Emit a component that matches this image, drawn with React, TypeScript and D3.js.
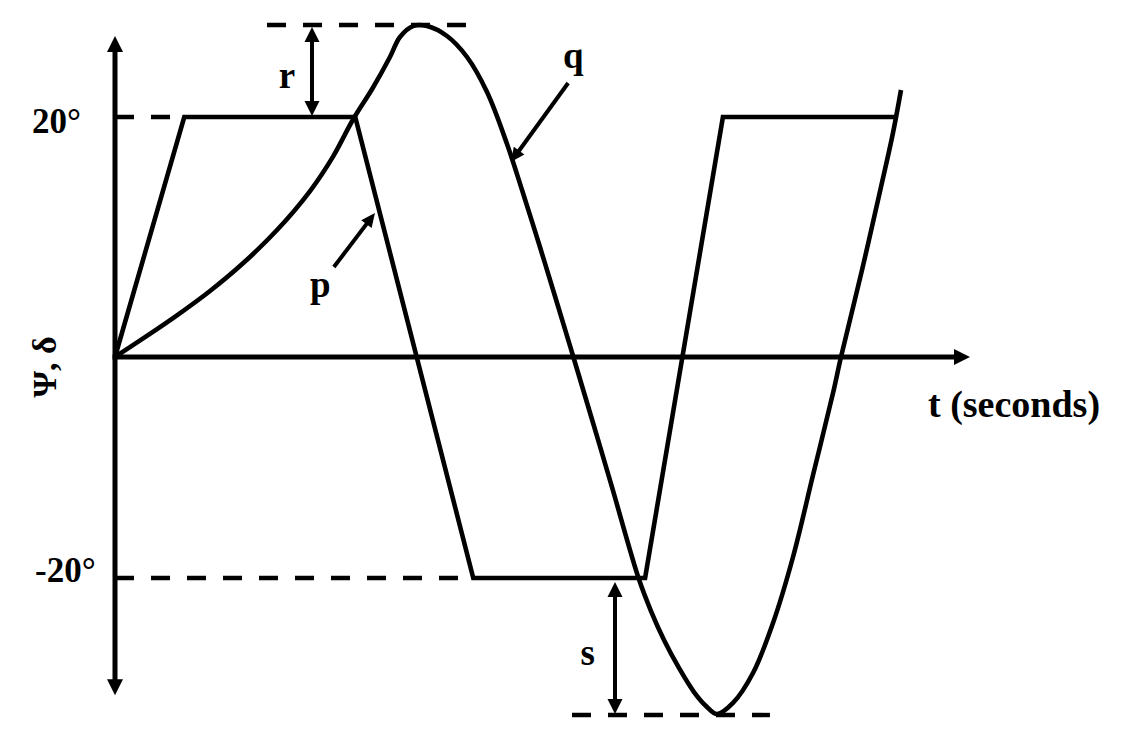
import React from 'react';
import * as d3 from 'd3';

const W = 1135;
const H = 742;

// time axis in arbitrary units (0..100), angle axis in degrees
const tAxisEnd = 100;
const vAxisTop = 26.75;
const vAxisBottom = -30.6;

const tickValues = [20, -20];
const tickLabels = ['20°', '-20°'];

// curve p (trapezoidal rudder command)
const pT = [0, 8.1, 28.1, 41.9, 62.0, 71.1, 91.2];
const pV = [0, 20, 20, -20, -20, 20, 20];

// curve q (heading response)
const qT = [0, 3.51, 7.25, 11.11, 14.97, 18.95, 22.81, 25.5, 27.84, 30.18, 32.16, 33.33, 34.85, 36.49, 38.83, 41.17, 43.51, 45.85, 47.68, 49.63, 51.49, 53.61, 55.81, 58.12, 61.27, 62.69, 64.21, 65.96, 67.72, 69.12, 70.41, 72.28, 74.62, 76.96, 79.3, 81.64, 83.98, 84.91, 87.37, 89.59, 90.99, 91.93];
const qV = [0, 1.65, 3.47, 5.5, 7.81, 10.58, 13.83, 16.7, 19.79, 22.46, 25.0, 26.67, 27.58, 27.58, 26.75, 25.0, 22.08, 17.75, 13.75, 9.33, 5.0, 0, -5.7, -11.76, -20.1, -22.99, -25.61, -28.14, -30.32, -31.58, -32.31, -31.31, -28.6, -24.07, -18.1, -10.68, -3.26, 0, 7.25, 14.17, 18.67, 22.25];

const peakV = 27.67;
const minV = -32.4;

// dashed reference lines
const dashStarts = [0, 17.78, 0, 53.45];
const dashEnds = [8.1, 41.05, 41.9, 76.6];
const dashVals = [20, peakV, -20, minV];

// annotation arrows
const rArrowT = 23.04;
const sArrowT = 58.48;

const pLabel = { text: 'p', t: 24.0, v: 5.0 };
const qLabel = { text: 'q', t: 53.6, v: 24.1 };
const rLabel = { text: 'r', t: 20.1, v: 22.4 };
const sLabel = { text: 's', t: 55.3, v: -27.87 };

const pArrowFrom = [25.6, 7.5];
const pArrowTo = [30.4, 12.0];
const qArrowFrom = [53.0, 22.83];
const qArrowTo = [46.3, 16.25];

const FONT = '"Liberation Serif", "Times New Roman", serif';

function arrowHead(tip: number[], from: number[], len: number, half: number) {
  const dx = tip[0] - from[0];
  const dy = tip[1] - from[1];
  const L = Math.hypot(dx, dy);
  const ux = dx / L;
  const uy = dy / L;
  const bx = tip[0] - ux * len;
  const by = tip[1] - uy * len;
  const px = -uy;
  const py = ux;
  return `M${tip[0]},${tip[1]}L${bx + px * half},${by + py * half}L${bx - px * half},${by - py * half}Z`;
}

function shorten(tip: number[], from: number[], d: number) {
  const dx = tip[0] - from[0];
  const dy = tip[1] - from[1];
  const L = Math.hypot(dx, dy);
  return [tip[0] - (dx / L) * d, tip[1] - (dy / L) * d];
}

export default function App() {
  const x = d3.scaleLinear().domain([0, 100]).range([115, 970]);
  const y = d3.scaleLinear().domain([-20, 0, 20]).range([578, 357, 117]);

  const lineLin = d3
    .line<number>()
    .x((_, i) => x(pT[i]))
    .y((d) => y(d));
  const lineQ = d3
    .line<number>()
    .x((_, i) => x(qT[i]))
    .y((d) => y(d))
    .curve(d3.curveCatmullRom.alpha(0.5));

  const x0 = x(0);
  const y0 = y(0);

  const yTop = [x0, y(vAxisTop)];
  const yBot = [x0, y(vAxisBottom)];
  const xEnd = [x(tAxisEnd), y0];

  const yTopLineEnd = shorten(yTop, yBot, 10);
  const yBotLineEnd = shorten(yBot, yTop, 10);
  const xLineEnd = shorten(xEnd, [x0, y0], 10);

  const rTop = [x(rArrowT), y(peakV) + 2];
  const rBot = [x(rArrowT), y(20) - 1];
  const sTop = [x(sArrowT), y(-20) + 4];
  const sBot = [x(sArrowT), y(minV) - 1];

  const pFrom = [x(pArrowFrom[0]), y(pArrowFrom[1])];
  const pTo = [x(pArrowTo[0]), y(pArrowTo[1])];
  const qFrom = [x(qArrowFrom[0]), y(qArrowFrom[1])];
  const qTo = [x(qArrowTo[0]), y(qArrowTo[1])];

  const tickX = [32, 35];
  const tickDy = [16, 4];

  const sw = 4.6;

  const pointer = (from: number[], to: number[]) => {
    const e = shorten(to, from, 8);
    return (
      <g>
        <line x1={from[0]} y1={from[1]} x2={e[0]} y2={e[1]} stroke="#000" strokeWidth={4} />
        <path d={arrowHead(to, from, 14, 6.5)} fill="#000" />
      </g>
    );
  };

  return (
    <svg
      width={W}
      height={H}
      style={{ position: 'absolute', left: 0, top: 0, background: '#fff' }}
    >
      <rect x={0} y={0} width={W} height={H} fill="#fff" />
      {dashVals.map((v, i) => (
        <line
          key={'d' + i}
          x1={x(dashStarts[i])}
          x2={x(dashEnds[i])}
          y1={y(v)}
          y2={y(v)}
          stroke="#000"
          strokeWidth={4.4}
          strokeDasharray="19 17"
        />
      ))}

      <line x1={yBotLineEnd[0]} y1={yBotLineEnd[1]} x2={yTopLineEnd[0]} y2={yTopLineEnd[1]} stroke="#000" strokeWidth={5} />
      <path d={arrowHead(yTop, yBot, 16, 8)} fill="#000" />
      <path d={arrowHead(yBot, yTop, 16, 8)} fill="#000" />
      <line x1={x0 - 2.5} y1={y0} x2={xLineEnd[0]} y2={xLineEnd[1]} stroke="#000" strokeWidth={5} />
      <path d={arrowHead(xEnd, [x0, y0], 16, 8)} fill="#000" />

      <path d={lineLin(pV) || ''} fill="none" stroke="#000" strokeWidth={sw} strokeLinejoin="miter" />
      <path d={lineQ(qV) || ''} fill="none" stroke="#000" strokeWidth={sw} strokeLinejoin="round" />

      <line x1={rTop[0]} y1={rTop[1] + 10} x2={rBot[0]} y2={rBot[1] - 10} stroke="#000" strokeWidth={4} />
      <path d={arrowHead(rTop, rBot, 15, 7.5)} fill="#000" />
      <path d={arrowHead(rBot, rTop, 15, 7.5)} fill="#000" />

      <line x1={sTop[0]} y1={sTop[1] + 10} x2={sBot[0]} y2={sBot[1] - 10} stroke="#000" strokeWidth={4} />
      <path d={arrowHead(sTop, sBot, 15, 7.5)} fill="#000" />
      <path d={arrowHead(sBot, sTop, 15, 7.5)} fill="#000" />

      {pointer(pFrom, pTo)}
      {pointer(qFrom, qTo)}

      <g fontFamily={FONT} fontWeight="bold" fill="#000">
        {tickValues.map((v, i) => (
          <text key={'t' + i} x={tickX[i]} y={y(v) + tickDy[i]} fontSize={35}>
            {tickLabels[i]}
          </text>
        ))}
        {[pLabel, qLabel, rLabel, sLabel].map((l) => (
          <text key={l.text} x={x(l.t)} y={y(l.v)} fontSize={37} textAnchor="middle">
            {l.text}
          </text>
        ))}
        <text x={928} y={417} fontSize={38}>
          t (seconds)
        </text>
        <text transform="translate(56,367) rotate(-90)" fontSize={34} textAnchor="middle">
          Ψ, δ
        </text>
      </g>
    </svg>
  );
}
